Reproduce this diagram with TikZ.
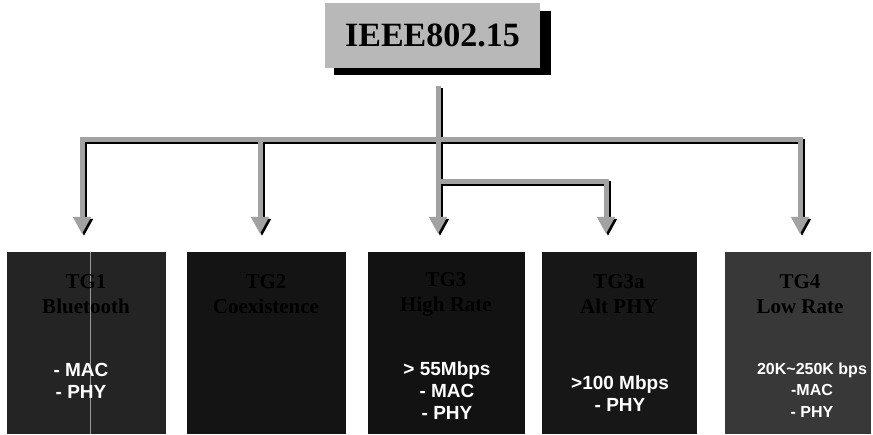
\documentclass[tikz,border=0pt]{standalone}
\usepackage{fontspec}
\setmainfont{Liberation Serif}
\setsansfont{Liberation Sans}
\usetikzlibrary{arrows.meta,calc}
\definecolor{arrowgray}{HTML}{A2A2A2}
\definecolor{titlegray}{HTML}{B8B8B8}
\begin{document}
\begin{tikzpicture}[x=1pt,y=-1pt,
  conn/.style={line width=5pt,draw=arrowgray,-{Triangle[width=17pt,length=17pt]}},
  connshadow/.style={line width=5pt,draw=black,-{Triangle[width=17pt,length=17pt]},transform canvas={shift={(2pt,-2pt)}}},
  tgbox/.style={draw=none,inner sep=0pt,minimum height=182pt},
  tgtitle/.style={text=black,font=\bfseries\fontsize{21}{25}\selectfont,align=center,inner sep=0pt},
  tgtext/.style={text=white,font=\sffamily\bfseries\fontsize{19}{22}\selectfont,align=center,inner sep=0pt},
  tgtextsmall/.style={text=white,font=\sffamily\bfseries\fontsize{16}{21.5}\selectfont,align=center,inner sep=0pt}
]
\useasboundingbox (0,0) rectangle (873,435);
\fill[white] (0,0) rectangle (873,435);

% title
\fill[black] (334,11) rectangle (551,75);
\node[fill=titlegray,inner sep=0pt,minimum width=215pt,minimum height=65pt,
      font=\bfseries\fontsize{34}{38}\selectfont] (t) at (432.5,35.5) {IEEE802.15};

% boxes
\node[tgbox,fill=black!86,minimum width=159pt] (b1) at (86.5,343) {};
\node[tgbox,fill=black!92,minimum width=159pt] (b2) at (266.5,343) {};
\node[tgbox,fill=black!93,minimum width=157pt] (b3) at (446.5,343) {};
\node[tgbox,fill=black!91,minimum width=155pt] (b4) at (619.5,343) {};
\node[tgbox,fill=black!78,minimum width=146pt] (b5) at (798,343) {};
\draw[black!40,line width=0.8pt] (90,252) -- (90,434);

% box titles (printed black on dark)
\node[tgtitle] (h1) at (86,294) {TG1\\Bluetooth};
\node[tgtitle] (h2) at (266,294) {TG2\\Coexistence};
\node[tgtitle] (h3) at (446,294) {TG3\\High Rate};
\node[tgtitle] (h4) at (619,294) {TG3a\\Alt PHY};
\node[tgtitle] (h5) at (800,294) {TG4\\Low Rate};

% box texts
\node[tgtext] (d1) at (81,381) {- MAC\\- PHY};
\node[tgtext] (d3) at (447,391) {> 55Mbps\\- MAC\\- PHY};
\node[tgtext] (d4) at (620,394) {>100 Mbps\\- PHY};
\node[tgtextsmall] (d5) at (812,390) {20K\textasciitilde250K bps\\-MAC\\- PHY};

% connectors
\coordinate (s) at (438,86);
\coordinate (h) at (438,140);
\coordinate (hb) at (438,182);
\coordinate (p1) at (82,234);
\coordinate (p2) at (260,234);
\coordinate (p3) at (438,234);
\coordinate (p4) at (606,234);
\coordinate (p5) at (800,234);

\draw[connshadow] (h) -| (p1);
\draw[connshadow] (h) -| (p2);
\draw[connshadow] (h) -| (p5);
\draw[connshadow] (hb) -| (p4);
\draw[connshadow] (s) -- (p3);

\draw[conn] (h) -| (p1);
\draw[conn] (h) -| (p2);
\draw[conn] (h) -| (p5);
\draw[conn] (hb) -| (p4);
\draw[conn] (s) -- (p3);
\end{tikzpicture}
\end{document}
